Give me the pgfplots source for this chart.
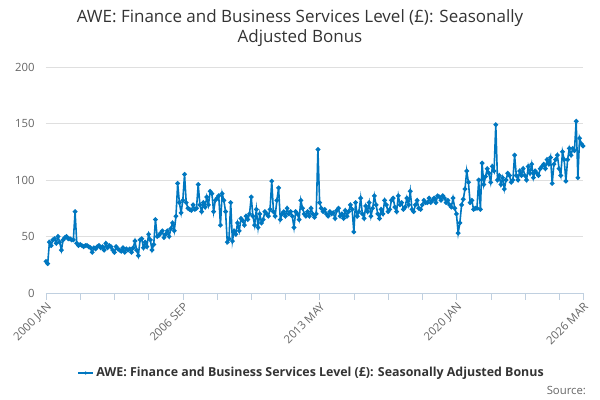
\documentclass[border=0pt]{standalone}
\usepackage{pgfplots}
\pgfplotsset{compat=1.18}
\usepackage{fontspec}
\setmainfont{Open Sans}
\definecolor{line}{HTML}{0077C0}
\definecolor{txt}{HTML}{333333}
\definecolor{tk}{HTML}{666666}
\definecolor{ax}{HTML}{C0D0E0}
\begin{document}
\begin{tikzpicture}[x=1pt,y=1pt]
\path (0,0) rectangle (450,300);
\begin{axis}[at={(34.5pt,80.25pt)},anchor=origin,scale only axis,
 width=402.75pt,height=169.5pt,xmin=0,xmax=314,ymin=0,ymax=200,
 ytick={0,50,100,150,200},ymajorgrids,grid style={color=gray!25},
 axis x line*=bottom,axis y line*=left,y axis line style={draw=none},x axis line style={ax,-},
 xtick={0,80,160,240,314},xticklabels={2000 JAN,2006 SEP,2013 MAY,2020 JAN,2026 MAR},
 minor xtick={20,40,60,100,120,140,180,200,220,260,280,300},
 xtick style={ax},major tick length=5pt,minor tick length=5pt,
 ytick style={draw=none},
 tick align=outside,
 xticklabel style={rotate=45,anchor=north east,font=\fontsize{8.5}{10}\selectfont,color=tk,inner sep=1pt},
 yticklabel style={font=\fontsize{8.5}{10}\selectfont,color=tk},
 /pgf/number format/assume math mode=true,clip=false]
\addplot[line,line width=1.2pt,mark=*,mark size=1.1pt] table[x expr=\coordindex,y index=0,header=false]{
28
26
45
42
47
48
44
50
45
38
47
49
50
48
48
47
47
72
44
42
43
42
41
42
42
41
40
36
40
39
41
42
40
41
38
44
40
42
41
38
36
41
39
38
37
40
36
39
38
39
36
40
46
38
33
47
48
40
45
41
52
47
38
43
65
50
51
53
55
49
52
55
50
57
62
55
68
97
80
71
82
105
80
75
74
73
78
74
75
96
78
72
80
76
85
78
90
88
72
82
84
86
60
88
82
72
45
48
80
46
55
52
62
55
66
64
60
68
65
70
85
68
60
74
58
70
62
65
72
70
68
74
99
72
68
82
93
65
70
72
68
75
70
72
68
58
72
70
65
82
75
70
68
72
68
75
70
67
70
127
80
75
72
74
70
68
72
70
71
66
73
75
68
70
66
73
68
72
78
74
54
80
68
72
84
70
66
77
72
80
68
75
86
78
70
66
74
70
82
78
72
74
82
84
76
72
86
78
80
74
76
84
78
90
74
72
78
82
75
74
78
82
80
80
84
80
82
84
80
86
85
82
86
84
80
82
78
76
84
75
70
53
62
78
83
92
108
98
80
82
74
75
75
100
74
115
96
103
110
106
98
112
108
149
100
104
96
102
92
100
106
104
98
100
122
104
100
108
104
110
104
100
112
106
114
102
108
106
104
110
112
114
110
118
114
120
97
114
118
122
110
104
125
118
99
118
128
122
128
126
152
102
137
132
130
};
\end{axis}
\node[font=\fontsize{12.75}{15}\selectfont,color=txt,align=center] at (225,279) {AWE: Finance and Business Services Level (£): Seasonally\\Adjusted Bonus};
\draw[line,line width=1.2pt] (58.5,20.25) -- (70,20.25);
\fill[line] (64.25,20.25) circle (1.3pt);
\node[anchor=west,font=\bfseries\fontsize{9.3}{11}\selectfont,color=txt,inner sep=1pt] at (71,20.25) {AWE: Finance and Business Services Level (£): Seasonally Adjusted Bonus};
\node[anchor=east,font=\fontsize{8.5}{10}\selectfont,color=tk] at (443,7.5) {Source:};
\end{tikzpicture}
\end{document}
